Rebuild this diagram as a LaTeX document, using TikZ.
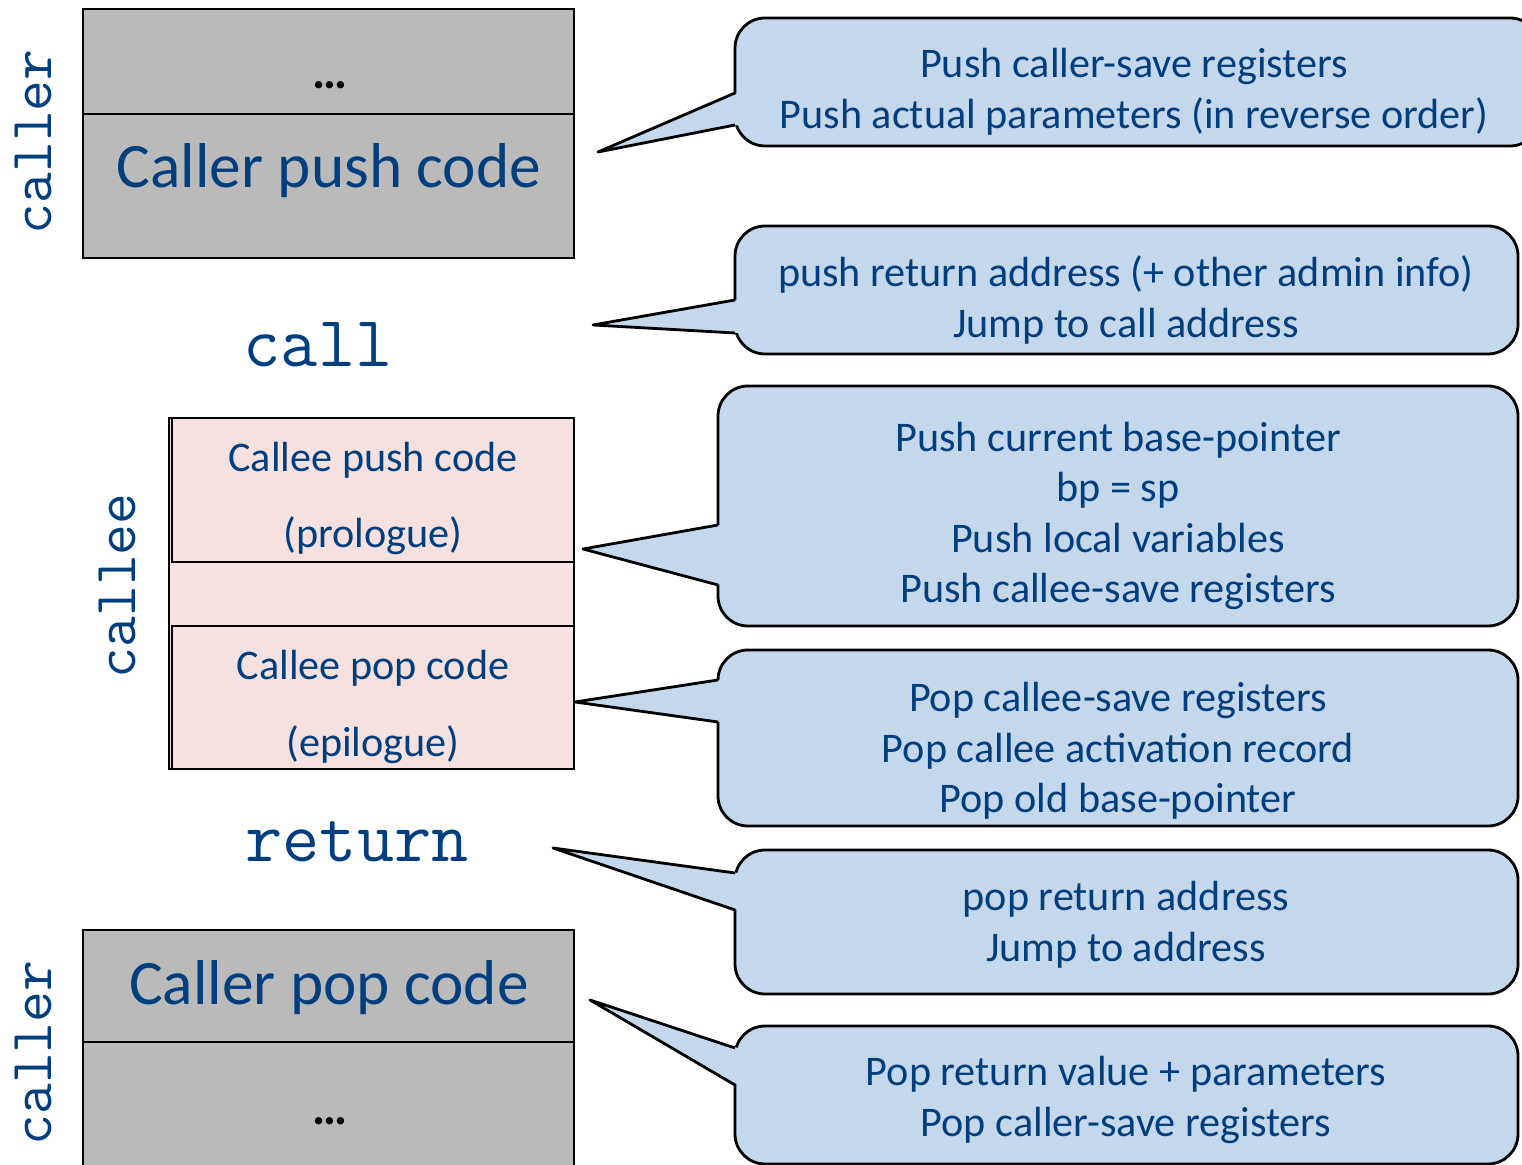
\documentclass[tikz,border=0pt]{standalone}
\usepackage{fontspec}
\setmainfont{Carlito}
\definecolor{txtblue}{RGB}{0,62,126}
\definecolor{bubble}{RGB}{197,216,235}
\definecolor{stackgray}{RGB}{186,186,186}
\definecolor{calleepink}{RGB}{244,225,224}

\begin{document}
\begin{tikzpicture}[x=0.01cm,y=-0.01cm,line width=0.8pt,
    txt/.style={text=txtblue,font=\fontsize{12}{14.4}\selectfont,align=center,inner sep=0pt},
    bigtxt/.style={text=txtblue,font=\fontsize{18}{21}\selectfont,inner sep=0pt},
    codetxt/.style={text=txtblue,font=\ttfamily\fontsize{20.5}{24}\selectfont,inner sep=0pt},
    sidetxt/.style={text=txtblue,font=\ttfamily\fontsize{17}{20}\selectfont,rotate=90,inner sep=0pt},
    dots/.style={font=\fontsize{14}{16}\bfseries,inner sep=0pt},
    bubblebox/.style={draw,fill=bubble,rounded corners=0.3cm},
    pointer/.style={line join=round}]
    \useasboundingbox (0,0) rectangle (1522,1165);

    % stack
    \draw[fill=stackgray] (83,9) rectangle (574,114);
    \draw[fill=stackgray] (83,114) rectangle (574,258);
    \draw[fill=calleepink] (169,418) rectangle (574,769);
    \draw[fill=calleepink] (172,418) rectangle (574,562);
    \draw[fill=calleepink] (172,626) rectangle (574,769);
    \draw[fill=stackgray] (83,930) rectangle (574,1042);
    \draw[fill=stackgray] (83,1042) rectangle (574,1180);

    \node (dotsA) at (330,85) [dots] {…};
    \node (pushA) at (329,171) [bigtxt] {Caller push code};
    \node (call) at (318,345) [codetxt] {call};
    \node (pushB) at (373,460) [txt] {Callee push code};
    \node (prol) at (373,536) [txt] {(prologue)};
    \node (popB) at (373,668) [txt] {Callee pop code};
    \node (epil) at (373,745) [txt] {(epilogue)};
    \node (ret) at (357,842) [codetxt] {return};
    \node (popA) at (329,988) [bigtxt] {Caller pop code};
    \node (dotsB) at (330,1121) [dots] {…};

    \node (callerA) at (33,142) [sidetxt] {caller};
    \node (callee) at (117,586) [sidetxt] {callee};
    \node (callerB) at (33,1053) [sidetxt] {caller};

    % callouts
    \draw[bubblebox] (735,18) rectangle (1540,146);
    \draw[bubblebox] (735,226) rectangle (1518,354);
    \draw[bubblebox] (718,386) rectangle (1518,626);
    \draw[bubblebox] (718,650) rectangle (1518,826);
    \draw[bubblebox] (735,850) rectangle (1518,994);
    \draw[bubblebox] (735,1026) rectangle (1518,1164);

    \coordinate (tip1) at (598,152);
    \coordinate (tip2) at (593,325);
    \coordinate (tip3) at (583,549);
    \coordinate (tip4) at (575,702);
    \coordinate (tip5) at (553,848);
    \coordinate (tip6) at (590,1000);

    \fill[bubble] (738,93) -- (tip1) -- (738,125) -- cycle;
    \draw[pointer] (735,93) -- (tip1) -- (735,125);
    \fill[bubble] (738,300) -- (tip2) -- (738,333) -- cycle;
    \draw[pointer] (735,300) -- (tip2) -- (735,333);
    \fill[bubble] (721,525) -- (tip3) -- (721,585) -- cycle;
    \draw[pointer] (718,525) -- (tip3) -- (718,585);
    \fill[bubble] (721,680) -- (tip4) -- (721,722) -- cycle;
    \draw[pointer] (718,680) -- (tip4) -- (718,722);
    \fill[bubble] (738,873) -- (tip5) -- (738,910) -- cycle;
    \draw[pointer] (735,873) -- (tip5) -- (735,910);
    \fill[bubble] (738,1048) -- (tip6) -- (738,1085) -- cycle;
    \draw[pointer] (735,1048) -- (tip6) -- (735,1085);

    \node (note1) at (1134,92) [txt] {Push caller-save registers\\Push actual parameters (in reverse order)};
    \node (note2) at (1126,300) [txt] {push return address (+ other admin info)\\Jump to call address};
    \node (note3) at (1118,516) [txt] {Push current base-pointer\\bp = sp\\Push local variables\\Push callee-save registers};
    \node (note4) at (1118,751) [txt] {Pop callee-save registers\\Pop callee activation record\\Pop old base-pointer};
    \node (note5) at (1126,925) [txt] {pop return address\\Jump to address};
    \node (note6) at (1126,1100) [txt] {Pop return value + parameters\\Pop caller-save registers};
\end{tikzpicture}
\end{document}
